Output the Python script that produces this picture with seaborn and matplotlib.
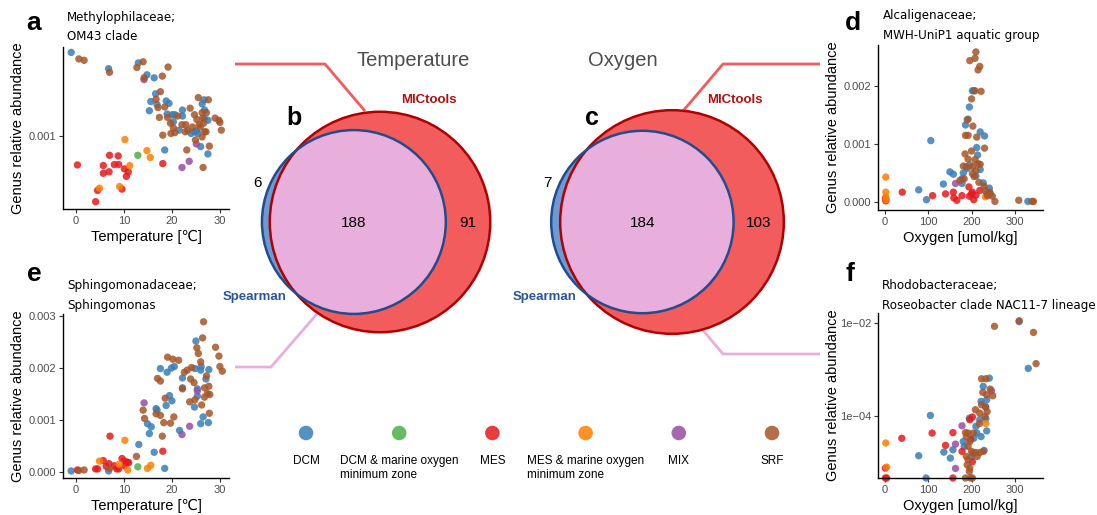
import math
import pandas as pd
import matplotlib
matplotlib.use('Agg')
import matplotlib.pyplot as plt
import seaborn as sns
from matplotlib.patches import Circle
from matplotlib.ticker import NullLocator

# categories
zones = ['DCM', 'DCM & marine oxygen\nminimum zone', 'MES',
         'MES & marine oxygen\nminimum zone', 'MIX', 'SRF']
zone_colors = ['#377EB8', '#4DAF4A', '#E41A1C', '#FF7F00', '#984EA3', '#A65628']

# panel a: Methylophilaceae; OM43 clade (temperature, abundance)
a_dcm = [(-1.0, 2.63e-3), (6.8, 2.18e-3), (13.0, 2.33e-3), (14.8, 2.03e-3), (16.3, 1.96e-3),
         (16.6, 1.63e-3), (15.6, 1.49e-3), (15.3, 1.34e-3), (16.9, 1.44e-3), (18.8, 1.50e-3),
         (19.4, 1.46e-3), (19.0, 1.29e-3), (20.1, 1.28e-3), (20.3, 1.18e-3), (20.6, 1.28e-3),
         (22.2, 1.35e-3), (22.2, 1.26e-3), (21.5, 1.07e-3), (24.0, 1.03e-3), (24.7, 1.05e-3),
         (25.1, 1.06e-3), (25.4, 1.03e-3), (26.3, 1.45e-3), (26.7, 1.52e-3), (26.8, 1.35e-3),
         (26.8, 1.22e-3), (27.5, 1.20e-3), (26.0, 0.885e-3), (27.5, 0.813e-3), (18.5, 0.851e-3)]
a_dcm_omz = [(12.9, 0.80e-3)]
a_mes = [(0.3, 0.716e-3), (4.1, 0.468e-3), (4.5, 0.533e-3), (5.7, 0.711e-3), (5.7, 0.65e-3),
         (6.9, 0.661e-3), (7.0, 0.80e-3), (8.0, 0.719e-3), (8.9, 0.72e-3), (8.8, 0.795e-3),
         (9.6, 0.541e-3), (10.1, 0.684e-3), (10.9, 0.66e-3), (10.5, 0.627e-3), (18.1, 0.727e-3)]
a_mes_omz = [(10.2, 0.96e-3), (11.2, 0.71e-3), (14.8, 0.845e-3), (15.5, 0.78e-3),
             (4.9, 0.547e-3), (9.1, 0.558e-3)]
a_mix = [(14.2, 1.92e-3), (25.1, 0.912e-3), (23.6, 0.747e-3), (22.1, 0.695e-3)]
a_srf = [(0.6, 2.44e-3), (1.7, 2.40e-3), (7.0, 2.09e-3), (12.7, 2.21e-3), (14.0, 2.36e-3),
         (14.2, 1.96e-3), (18.0, 2.0e-3), (19.2, 2.22e-3), (16.7, 1.53e-3), (17.6, 1.67e-3),
         (17.1, 1.39e-3), (18.5, 1.40e-3), (17.4, 1.24e-3), (19.1, 1.24e-3), (19.7, 1.16e-3),
         (19.8, 1.03e-3), (20.3, 1.10e-3), (20.6, 1.04e-3), (21.2, 1.26e-3), (22.1, 1.14e-3),
         (22.9, 1.14e-3), (23.3, 1.07e-3), (23.8, 1.38e-3), (24.7, 1.28e-3), (25.2, 1.21e-3),
         (25.5, 1.56e-3), (25.7, 1.14e-3), (25.9, 1.11e-3), (26.3, 1.31e-3), (26.4, 1.23e-3),
         (26.6, 1.16e-3), (26.8, 1.05e-3), (26.3, 0.99e-3), (27.1, 1.05e-3), (27.2, 1.31e-3),
         (27.6, 1.52e-3), (27.8, 0.89e-3), (29.0, 1.23e-3), (29.8, 1.20e-3), (30.0, 1.17e-3),
         (30.3, 1.07e-3), (26.5, 0.695e-3), (18.1, 1.01e-3), (24.9, 0.955e-3), (23.1, 0.851e-3),
         (24.3, 1.11e-3), (22.8, 1.05e-3)]

# panel e: Sphingomonadaceae; Sphingomonas (temperature, abundance)
e_dcm = [(-1.0, 0.00002), (6.8, 0.00002), (13.1, 0.00053), (14.9, 0.00093), (15.3, 0.00074),
         (15.7, 0.00087), (16.3, 0.00038), (16.7, 0.00122), (16.9, 0.00119), (17.6, 0.00199),
         (18.8, 0.00128), (19.0, 0.00192), (19.9, 0.0020), (20.5, 0.00203), (19.5, 0.00147),
         (20.0, 0.00137), (21.6, 0.0008), (22.2, 0.00162), (22.2, 0.00181), (25.0, 0.00252),
         (24.8, 0.00199), (25.3, 0.00146), (25.3, 0.0016), (26.0, 0.00196), (26.1, 0.00203),
         (26.5, 0.00106), (26.0, 0.00093), (27.1, 0.00179), (27.7, 0.00197), (27.6, 0.00095),
         (24.7, 0.00125), (18.5, 0.00007)]
e_dcm_omz = [(12.9, 0.0001)]
e_mes = [(0.3, 0.00004), (4.1, 0.00006), (4.5, 0.00006), (5.7, 0.00022), (6.9, 0.00016),
         (7.1, 0.00069), (8.0, 0.00012), (8.5, 0.00006), (8.9, 0.00006), (9.6, 0.00026),
         (10.1, 0.00021), (10.7, 0.00019), (11.0, 0.00018), (10.2, 0.00012), (18.1, 0.0004),
         (6.3, 0.00011)]
e_mes_omz = [(4.9, 0.00021), (9.0, 0.00015), (10.2, 0.00061), (10.8, 0.00004),
             (14.9, 0.00007), (15.6, 0.00013)]
e_mix = [(14.2, 0.00133), (22.1, 0.00072), (23.7, 0.00088), (25.3, 0.00156)]
e_srf = [(0.6, 0.00003), (1.7, 0.00004), (7.0, 0.00007), (12.6, 0.0003), (14.0, 0.00119),
         (14.3, 0.00103), (17.0, 0.0018), (17.6, 0.00175), (16.7, 0.00112), (17.6, 0.00109),
         (18.0, 0.00069), (18.3, 0.00095), (18.6, 0.00142), (19.1, 0.00221), (19.7, 0.00094),
         (20.2, 0.00217), (20.4, 0.00106), (21.4, 0.00215), (22.2, 0.0016), (22.6, 0.00192),
         (23.2, 0.00196), (23.7, 0.00135), (23.9, 0.00179), (24.1, 0.00201), (24.8, 0.00139),
         (25.2, 0.00239), (25.5, 0.00228), (26.0, 0.00212), (26.4, 0.00258), (26.6, 0.00289),
         (26.8, 0.00162), (26.8, 0.00144), (27.2, 0.00185), (27.4, 0.00151), (27.7, 0.00165),
         (27.8, 0.00113), (27.9, 0.00149), (26.2, 0.00129), (29.1, 0.0024), (29.8, 0.00223),
         (30.0, 0.00203), (30.5, 0.00194), (24.6, 0.00172)]

# panel d: Alcaligenaceae; MWH-UniP1 aquatic group (oxygen, abundance)
d_dcm = [(78, 0.00021), (96, 0.00004), (106, 0.00106), (135, 0.00031), (150, 0.00052),
         (158, 0.00048), (178, 0.00032), (181, 0.0005), (186, 0.00133), (192, 0.00143),
         (195, 0.00164), (196, 0.00064), (202, 0.00192), (205, 0.00192), (212, 0.00094),
         (214, 0.00081), (220, 0.00121), (230, 0.00114), (220, 0.00056), (227, 0.00033),
         (235, 0.00014), (241, 0.00024), (330, 0.00001), (190, 0.00058), (210, 0.00045)]
d_dcm_omz = []
d_mes = [(1, 0.00006), (2, 0.00002), (40, 0.00017), (110, 0.00011), (140, 0.00014),
         (158, 0.00017), (159, 0.00007), (166, 0.00003), (178, 0.00011), (194, 0.00026),
         (195, 0.0001), (200, 0.00014), (202, 0.00017), (205, 0.00004), (219, 0.0002),
         (210, 0.00012)]
d_mes_omz = [(2, 0.00043), (2, 0.00017), (2, 0.00009), (3, 0.00004), (232, 0.00009)]
d_mix = [(163, 0.00032), (178, 0.0004), (243, 0.00014)]
d_srf = [(196, 0.00244), (208, 0.00248), (210, 0.00259), (215, 0.00228), (219, 0.00234),
         (222, 0.00191), (200, 0.00178), (208, 0.00192), (190, 0.00142), (203, 0.00131),
         (186, 0.00115), (192, 0.00115), (212, 0.00112), (230, 0.00093), (185, 0.00083),
         (192, 0.00074), (200, 0.00088), (208, 0.00073), (215, 0.00066), (220, 0.00065),
         (181, 0.00062), (188, 0.00061), (203, 0.00061), (210, 0.00054), (173, 0.00037),
         (183, 0.0004), (202, 0.00049), (206, 0.00044), (217, 0.00034), (229, 0.00027),
         (232, 0.00019), (242, 0.00017), (248, 0.0001), (254, 0.00001), (237, 0.00011),
         (309, 0.00003), (343, 0.00001), (340, 0.00001)]

# panel f: Rhodobacteraceae; Roseobacter clade NAC11-7 lineage (oxygen, abundance; 0 = absent)
f_dcm = [(310, 1.07e-2), (331, 1.07e-3), (241, 6.6e-4), (227, 4.4e-4), (235, 2.28e-4),
         (222, 2.1e-4), (232, 1.64e-4), (195, 9.2e-5), (219, 8.5e-5), (233, 8.9e-5),
         (235, 4.9e-5), (105, 1.05e-4), (78, 1.44e-5), (136, 1.72e-5), (151, 1.28e-5),
         (157, 1.93e-5), (181, 2.9e-5), (183, 2.28e-5), (210, 6.1e-5), (222, 3.7e-5),
         (205, 3.4e-5), (200, 1.39e-5), (229, 1.87e-5), (212, 4.4e-5), (95, 0.0)]
f_dcm_omz = []
f_mes = [(196, 8.5e-5), (202, 9.7e-5), (109, 4.4e-5), (157, 4.5e-5), (39, 3.4e-5),
         (1, 7.8e-6), (1, 0.0), (4, 0.0), (157, 0.0), (140, 2.4e-5), (178, 1.78e-5),
         (198, 3.2e-5), (202, 1.07e-5)]
f_mes_omz = [(233, 7.0e-5), (2, 2.7e-5), (4, 8.2e-6)]
f_mix = [(246, 3.55e-4), (178, 6.3e-5), (163, 2.55e-5), (163, 7.7e-6)]
f_srf = [(253, 8.5e-3), (310, 1.12e-2), (343, 6.3e-3), (349, 1.35e-3), (223, 6.4e-4),
         (233, 6.4e-4), (243, 3.85e-4), (249, 2.77e-4), (226, 3.27e-4), (233, 1.56e-4),
         (236, 1.26e-4), (231, 1.0e-4), (209, 1.39e-4), (218, 7.0e-5), (186, 4.5e-5),
         (192, 4.4e-5), (204, 4.4e-5), (188, 3.7e-5), (196, 2.9e-5), (192, 2.28e-5),
         (200, 1.78e-5), (209, 1.69e-5), (219, 1.69e-5), (188, 1.39e-5), (192, 1.18e-5),
         (190, 9.2e-6), (196, 7.8e-6), (195, 6.6e-6), (204, 1.63e-5), (213, 1.39e-5),
         (227, 1.78e-5), (219, 1.18e-4), (223, 1.78e-4), (235, 2.9e-4), (186, 0.0),
         (198, 0.0), (202, 0.0)]

# venn counts
venn_titles = ['Temperature', 'Oxygen']
venn_letters = ['b', 'c']
spearman_only = [6, 7]
both_methods = [188, 184]
mictools_only = [91, 103]

W, H = 1097, 515
sns.set_theme(style='ticks')
plt.rcParams['font.family'] = ['Liberation Sans', 'DejaVu Sans']
plt.rcParams['text.color'] = 'black'
plt.rcParams['axes.labelcolor'] = 'black'

fig = plt.figure(figsize=(W / 100, H / 100), dpi=100)


def px_axes(l, t, r, b):
    return fig.add_axes([l / W, 1 - b / H, (r - l) / W, (b - t) / H])


def make_df(groups):
    rows = []
    for zone, pts in zip(zones, groups):
        for x, y in pts:
            rows.append({'x': x, 'y': y, 'zone': zone})
    return pd.DataFrame(rows)


def scatter_panel(box, groups, xlim, ylim, xticks, yticks, yticklabels, xlabel, log=False):
    ax = px_axes(*box)
    df = make_df(groups)
    if log:
        df['y'] = df['y'].clip(lower=ylim[0])
    sns.scatterplot(data=df, x='x', y='y', hue='zone', hue_order=zones,
                    palette=dict(zip(zones, zone_colors)), s=28, alpha=0.85,
                    linewidth=0, legend=False, ax=ax)
    for c in ax.collections:
        c.set_clip_on(False)
    if log:
        ax.set_yscale('log')
    ax.set_xlim(xlim)
    ax.set_ylim(ylim)
    ax.set_xticks(xticks)
    ax.set_yticks(yticks)
    ax.set_yticklabels(yticklabels)
    ax.yaxis.set_minor_locator(NullLocator())
    ax.set_facecolor('none')
    sns.despine(ax=ax)
    for sp in ['left', 'bottom']:
        ax.spines[sp].set_color('black')
        ax.spines[sp].set_linewidth(1.0)
    ax.tick_params(length=3, width=0.8, color='#333333', labelcolor='#4D4D4D',
                   labelsize=8, pad=2)
    ax.set_xlabel(xlabel, fontsize=10.5)
    ax.set_ylabel('Genus relative abundance', fontsize=10.5)
    ax.xaxis.set_label_coords(0.5, -0.17)
    ax.xaxis.label.set_va('center')
    ax.yaxis.set_label_coords(-0.27, 0.5)
    ax.yaxis.label.set_va('center')
    return ax


temp_lab = 'Temperature [℃]'
oxy_lab = 'Oxygen [umol/kg]'
scatter_panel((63, 47, 229, 209), [a_dcm, a_dcm_omz, a_mes, a_mes_omz, a_mix, a_srf],
              (-2.7, 31.9), (0.43e-3, 2.80e-3), [0, 10, 20, 30], [0.001], ['0.001'],
              temp_lab, log=True)
scatter_panel((63, 314, 229, 478), [e_dcm, e_dcm_omz, e_mes, e_mes_omz, e_mix, e_srf],
              (-2.7, 31.9), (-0.000115, 0.00304), [0, 10, 20, 30],
              [0, 0.001, 0.002, 0.003], ['0.000', '0.001', '0.002', '0.003'], temp_lab)
scatter_panel((878, 45, 1043, 210), [d_dcm, d_dcm_omz, d_mes, d_mes_omz, d_mix, d_srf],
              (-16, 365), (-0.000138, 0.00271), [0, 100, 200, 300],
              [0, 0.001, 0.002], ['0.000', '0.001', '0.002'], oxy_lab)
scatter_panel((878, 313, 1043, 478), [f_dcm, f_dcm_omz, f_mes, f_mes_omz, f_mix, f_srf],
              (-16, 365), (4.8e-6, 1.64e-2), [0, 100, 200, 300],
              [1e-4, 1e-2], ['1e\u221204', '1e\u221202'], oxy_lab, log=True)

# overlay in pixel units for venns, connectors and annotations
ov = fig.add_axes([0, 0, 1, 1], zorder=5)
ov.set_xlim(0, W)
ov.set_ylim(H, 0)
ov.axis('off')

# connectors
red_line = '#F25C5C'
pink_line = '#E8AEDC'
ov.plot([235, 325, 365], [64, 64, 111], color=red_line, lw=2, zorder=0, solid_capstyle='butt')
ov.plot([820, 723, 683], [64, 64, 111], color=red_line, lw=2, zorder=0, solid_capstyle='butt')
ov.plot([235, 271, 323], [367, 367, 307], color=pink_line, lw=2, zorder=0, solid_capstyle='butt')
ov.plot([680, 723, 820], [303, 354, 354], color=pink_line, lw=2, zorder=0, solid_capstyle='butt')


def lens_area(r1, r2, d):
    if d >= r1 + r2:
        return 0.0
    if d <= abs(r1 - r2):
        return math.pi * min(r1, r2) ** 2
    a1 = r1 ** 2 * math.acos((d * d + r1 * r1 - r2 * r2) / (2 * d * r1))
    a2 = r2 ** 2 * math.acos((d * d + r2 * r2 - r1 * r1) / (2 * d * r2))
    a3 = 0.5 * math.sqrt((-d + r1 + r2) * (d + r1 - r2) * (d - r1 + r2) * (d + r1 + r2))
    return a1 + a2 - a3


venn_scale = 6.6
red_centers = [(380, 222), (672, 222)]
title_x = [413, 623]
mic_x = [429, 735]
letter_xy = [(294, 118), (592, 118)]

for i in range(2):
    cx, cy = red_centers[i]
    n_sp = spearman_only[i] + both_methods[i]
    n_mic = mictools_only[i] + both_methods[i]
    r_mic = venn_scale * math.sqrt(n_mic)
    r_sp = venn_scale * math.sqrt(n_sp)
    target = math.pi * venn_scale ** 2 * both_methods[i]
    lo, hi = r_mic - r_sp, r_mic + r_sp
    for _ in range(60):
        mid = (lo + hi) / 2
        if lens_area(r_mic, r_sp, mid) > target:
            lo = mid
        else:
            hi = mid
    bx = cx - (lo + hi) / 2

    red = Circle((cx, cy), r_mic, facecolor='#F25C5C', edgecolor='none', zorder=1)
    ov.add_patch(red)
    ov.add_patch(Circle((bx, cy), r_sp, facecolor='#6C9BD3', edgecolor='none', zorder=2))
    pink = Circle((bx, cy), r_sp, facecolor='#E8AEDC', edgecolor='none', zorder=3)
    ov.add_patch(pink)
    pink.set_clip_path(red)
    ov.add_patch(Circle((cx, cy), r_mic, fill=False, edgecolor='#B00000', lw=1.8, zorder=4))
    ov.add_patch(Circle((bx, cy), r_sp, fill=False, edgecolor='#234C8C', lw=1.8, zorder=5))

    ov.text(bx, cy + 1, str(both_methods[i]), ha='center', va='center', fontsize=11, zorder=6)
    ov.text((bx + r_sp + cx + r_mic) / 2, cy + 1, str(mictools_only[i]), ha='center',
            va='center', fontsize=11, zorder=6)
    ov.text(bx - r_sp - 4, cy - 39, str(spearman_only[i]), ha='center', va='center',
            fontsize=11, zorder=6)
    ov.text(mic_x[i], 100, 'MICtools', ha='center', va='center', fontsize=9.5,
            fontweight='bold', color='#B01010', zorder=6)
    ov.text(bx - r_sp - 7, 297, 'Spearman', ha='center', va='center', fontsize=9.5,
            fontweight='bold', color='#2A5599', zorder=6)
    ov.text(*letter_xy[i], venn_letters[i], ha='center', va='center', fontsize=18,
            fontweight='bold', zorder=6)
    ov.text(title_x[i], 61, venn_titles[i], ha='center', va='center', fontsize=14.5,
            color='#4D4D4D', zorder=6)

# panel letters and taxon subtitles
for (x, y), lt in zip([(34, 23), (34, 274), (853, 23), (850, 274)], ['a', 'e', 'd', 'f']):
    ov.text(x, y, lt, ha='center', va='center', fontsize=19, fontweight='bold')
subtitles = [((67, 17), 'Methylophilaceae;', 'OM43 clade'),
             ((67, 285), 'Sphingomonadaceae;', 'Sphingomonas'),
             ((883, 16), 'Alcaligenaceae;', 'MWH-UniP1 aquatic group'),
             ((882, 285), 'Rhodobacteraceae;', 'Roseobacter clade NAC11-7 lineage')]
for (x, y), l1, l2 in subtitles:
    ov.text(x, y, l1, ha='left', va='center', fontsize=8.6, family='DejaVu Sans')
    ov.text(x, y + 20, l2, ha='left', va='center', fontsize=8.6, family='DejaVu Sans')

# legend
leg = px_axes(260, 415, 820, 495)
leg.set_xlim((260 - 306) / 93.2, (820 - 306) / 93.2)
leg.set_ylim(-62, 18)
leg.axis('off')
sns.scatterplot(x=list(range(len(zones))), y=[0] * len(zones), hue=zones, hue_order=zones,
                palette=dict(zip(zones, zone_colors)), s=110, alpha=0.85, linewidth=0,
                legend=False, ax=leg)
for i, z in enumerate(zones):
    leg.text(i, -22, z, ha='center', va='top', fontsize=8.5, multialignment='left',
             linespacing=1.25)

fig.savefig('out.png', dpi=100)
